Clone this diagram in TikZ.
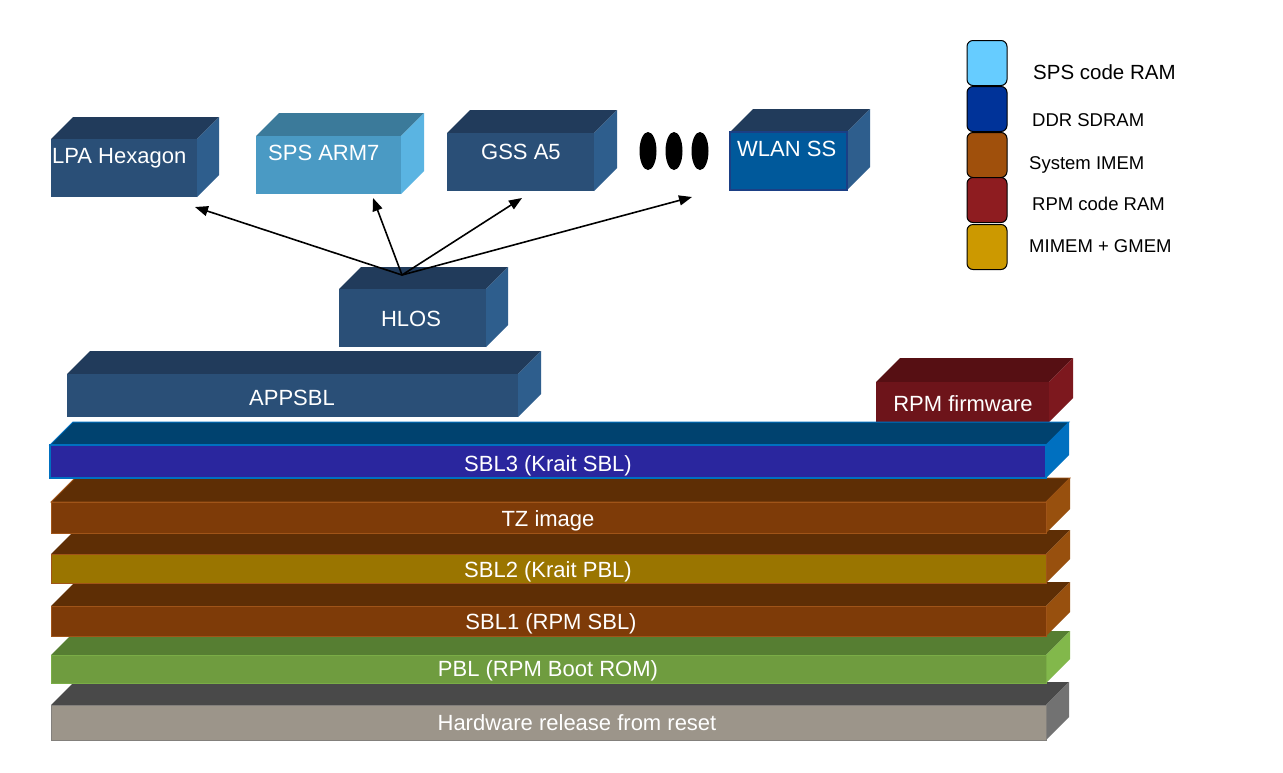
\documentclass[tikz,border=0pt]{standalone}
\usepackage{fontspec}
\setmainfont{Liberation Sans}
\usetikzlibrary{arrows.meta}
\definecolor{dbF}{HTML}{2A4F77}
\definecolor{dbT}{HTML}{213B5B}
\definecolor{dbR}{HTML}{2E5E8D}
\definecolor{spsF}{HTML}{4A9AC4}
\definecolor{spsT}{HTML}{3B7A9A}
\definecolor{spsR}{HTML}{5AB4E2}
\definecolor{wlanF}{HTML}{00599B}
\definecolor{wlanB}{HTML}{1B3F85}
\definecolor{rpmF}{HTML}{6D141A}
\definecolor{rpmT}{HTML}{560F13}
\definecolor{rpmR}{HTML}{7D181E}
\definecolor{sblT}{HTML}{00426F}
\definecolor{sblF}{HTML}{2A269E}
\definecolor{sblR}{HTML}{0070C0}
\definecolor{brT}{HTML}{5E2E05}
\definecolor{brF}{HTML}{7E3B08}
\definecolor{brR}{HTML}{98500E}
\definecolor{brB}{HTML}{A05418}
\definecolor{sbltwoF}{HTML}{9A7500}
\definecolor{pblT}{HTML}{567E32}
\definecolor{pblF}{HTML}{6F9C3F}
\definecolor{pblR}{HTML}{82B84B}
\definecolor{hwT}{HTML}{494949}
\definecolor{hwF}{HTML}{9C958A}
\definecolor{hwR}{HTML}{727272}
\definecolor{lgA}{HTML}{66CCFF}
\definecolor{lgB}{HTML}{003399}
\definecolor{lgC}{HTML}{A0500C}
\definecolor{lgD}{HTML}{8E1C20}
\definecolor{lgE}{HTML}{CC9900}
% #1 x1, #2 y1 (front top), #3 x2, #4 y2, #5 depth, #6 front style, #7 top style, #8 right style
\newcommand\cuboid[8]{%
  \fill[#7] (#1,#2) -- (#1+#5,#2-#5) -- (#3+#5,#2-#5) -- (#3,#2) -- cycle;
  \fill[#8] (#3,#2) -- (#3+#5,#2-#5) -- (#3+#5,#4-#5) -- (#3,#4) -- cycle;
  \path[#6] (#1,#2) rectangle (#3,#4);
}
\tikzset{
  boxtxt/.style={text=white, inner sep=0pt, font=\fontsize{22}{26}\selectfont},
  legtxt/.style={text=black, inner sep=0pt, anchor=base west, font=\fontsize{18.5}{22}\selectfont},
  legbox/.style={draw=black, line width=1pt, rounded corners=6pt, minimum width=40pt, minimum height=45pt, inner sep=0pt},
  arr/.style={line width=1.6pt, -{Triangle[length=13pt,width=10pt]}},
  dot/.style={fill=black}
}
\begin{document}
\begin{tikzpicture}[x=1pt,y=-1pt]
\useasboundingbox[fill=white] (0,0) rectangle (1283,772);

% top boxes
\cuboid{51}{139}{197}{197}{22}{fill=dbF}{fill=dbT}{fill=dbR}
\node[boxtxt, anchor=base west] (lpa) at (52,163) {LPA Hexagon};
\cuboid{256}{136}{401}{194}{23}{fill=spsF}{fill=spsT}{fill=spsR}
\node[boxtxt, anchor=base west] (sps) at (268,160) {SPS ARM7};
\cuboid{447}{133}{594}{191}{23}{fill=dbF}{fill=dbT}{fill=dbR}
\node[boxtxt, anchor=base west] (gss) at (481,159) {GSS A5};
\cuboid{730}{132}{847}{190}{23}{fill=wlanF, draw=wlanB, line width=1.5pt}{fill=dbT}{fill=dbR}
\node[boxtxt, anchor=base west] (wlan) at (737,156) {WLAN SS};

\fill[dot] (648,151) ellipse [x radius=8.5pt, y radius=19pt];
\fill[dot] (674,151) ellipse [x radius=8.5pt, y radius=19pt];
\fill[dot] (700,151) ellipse [x radius=8.5pt, y radius=19pt];

% HLOS / APPSBL / RPM
\cuboid{339}{289}{486}{347}{22}{fill=dbF}{fill=dbT}{fill=dbR}
\node[boxtxt, anchor=base] (hlos) at (411,326) {HLOS};
\cuboid{67}{374}{518}{417}{23}{fill=dbF}{fill=dbT}{fill=dbR}
\node[boxtxt, anchor=base] (appsbl) at (292,405) {APPSBL};
\cuboid{876}{382}{1049}{422}{24}{fill=rpmF}{fill=rpmT}{fill=rpmR}
\node[boxtxt, anchor=base] (rpm) at (963,411) {RPM firmware};

% stacked layers (bottom up)
\cuboid{51}{705}{1046}{740}{23}{fill=hwF, draw=hwR!60!hwF, line width=0.8pt}{fill=hwT}{fill=hwR}
\node[boxtxt, anchor=base] (hw) at (577,730) {Hardware release from reset};
\cuboid{51}{655}{1046}{683}{24}{fill=pblF, draw=pblR!60!pblF, line width=0.8pt}{fill=pblT}{fill=pblR}
\node[boxtxt, anchor=base] (pbl) at (548,676) {PBL (RPM Boot ROM)};
\cuboid{51}{606}{1046}{636}{24}{fill=brF, draw=brB, line width=0.8pt}{fill=brT}{fill=brR}
\node[boxtxt, anchor=base] (sblone) at (551,629) {SBL1 (RPM SBL)};
\cuboid{51}{554}{1046}{583}{24}{fill=sbltwoF, draw=brB, line width=0.8pt}{fill=brT}{fill=brR}
\node[boxtxt, anchor=base] (sbltwo) at (548,577) {SBL2 (Krait PBL)};
\cuboid{51}{502}{1046}{533}{24}{fill=brF, draw=brB, line width=0.8pt}{fill=brT, draw=brB, line width=0.8pt}{fill=brR}
\node[boxtxt, anchor=base] (tz) at (548,526) {TZ image};
\cuboid{50}{445}{1046}{478}{23}{fill=sblF, draw=sblR, line width=1.5pt}{fill=sblT, draw=sblR, line width=1pt}{fill=sblR}
\node[boxtxt, anchor=base] (sblthree) at (548,471) {SBL3 (Krait SBL)};

% arrows
\coordinate (hl) at (402,275);
\coordinate (tlpa) at (195,207);
\coordinate (tsps) at (373,198);
\coordinate (tgss) at (522,198);
\coordinate (twlan) at (692,197);
\draw[arr] (hl) -- (tlpa);
\draw[arr] (hl) -- (tsps);
\draw[arr] (hl) -- (tgss);
\draw[arr] (hl) -- (twlan);

% legend
\node[legbox, fill=lgA] (la) at (987,63) {};
\node[legbox, fill=lgB] (lb) at (987,109) {};
\node[legbox, fill=lgC] (lc) at (987,155) {};
\node[legbox, fill=lgD] (ld) at (987,200) {};
\node[legbox, fill=lgE] (le) at (987,247) {};
\node[legtxt, font=\fontsize{20.5}{24}\selectfont] (lta) at (1033,79) {SPS code RAM};
\node[legtxt] (ltb) at (1032,126) {DDR SDRAM};
\node[legtxt] (ltc) at (1029,169) {System IMEM};
\node[legtxt] (ltd) at (1032,210) {RPM code RAM};
\node[legtxt] (lte) at (1029,252) {MIMEM + GMEM};
\end{tikzpicture}
\end{document}
